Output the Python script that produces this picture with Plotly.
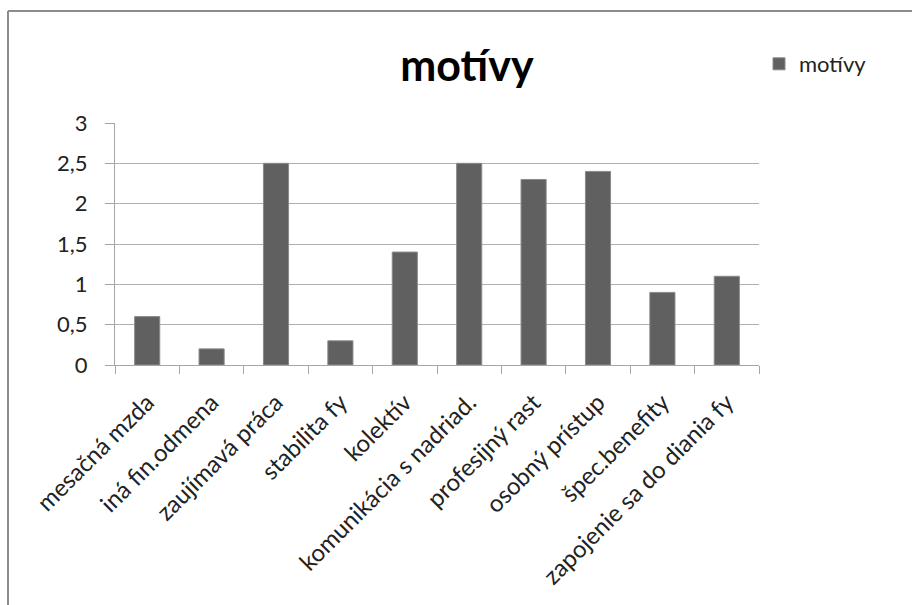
import plotly.graph_objects as go

categories = [
    "mesačná mzda",
    "iná fin.odmena",
    "zaujímavá práca",
    "stabilita fy",
    "kolektív",
    "komunikácia s nadriad.",
    "profesijný rast",
    "osobný prístup",
    "špec.benefity",
    "zapojenie sa do diania fy",
]
values = [0.6, 0.2, 2.5, 0.3, 1.4, 2.5, 2.3, 2.4, 0.9, 1.1]
y_ticks = [0, 0.5, 1, 1.5, 2, 2.5, 3]
series_name = "motívy"

FONT = "Lato"
W, H = 912, 605
L, R, T, B = 115, 759, 123, 365  # plot area in pixels


def px_x(x):
    return (x - L) / (R - L)


def px_y(y):
    return (B - y) / (B - T)


fig = go.Figure(
    go.Bar(
        x=categories,
        y=values,
        name=series_name,
        marker=dict(color="#606060", line=dict(color="#8a8a8a", width=1)),
        showlegend=True,
    )
)

fig.update_layout(
    width=W,
    height=H,
    margin=dict(l=L, r=W - R, t=T, b=H - B, autoexpand=False),
    paper_bgcolor="white",
    plot_bgcolor="white",
    separators=", ",
    bargap=0.61,
    font=dict(family=FONT, color="#222222"),
    title=dict(
        text="<b>motívy</b>",
        font=dict(family=FONT, size=43, color="#000000"),
        x=467 / W,
        xanchor="center",
        xref="container",
        y=1 - 66 / H,
        yanchor="middle",
        yref="container",
    ),
    legend=dict(
        x=px_x(759),
        y=px_y(64),
        xanchor="left",
        yanchor="middle",
        font=dict(family=FONT, size=22, color="#222222"),
        bgcolor="rgba(0,0,0,0)",
    ),
    xaxis=dict(
        type="category",
        automargin=False,
        tickangle=-45,
        tickson="boundaries",
        ticks="outside",
        ticklen=8,
        tickcolor="#a6a6a6",
        showline=True,
        linecolor="#a6a6a6",
        linewidth=1,
        showgrid=False,
        ticklabelstandoff=13,
        tickfont=dict(family=FONT, size=24, color="#222222"),
    ),
    yaxis=dict(
        range=[0, 3],
        automargin=False,
        tickvals=y_ticks,
        ticks="outside",
        ticklen=9,
        tickcolor="#a6a6a6",
        showline=True,
        linecolor="#a6a6a6",
        linewidth=1,
        showgrid=True,
        gridcolor="#b0b0b0",
        gridwidth=1,
        zeroline=False,
        ticklabelstandoff=13,
        tickfont=dict(family=FONT, size=22, color="#222222"),
    ),
    shapes=[
        dict(type="line", xref="paper", yref="paper",
             x0=px_x(8), y0=px_y(11), x1=px_x(8), y1=px_y(H + 5),
             line=dict(color="#8c8c8c", width=2)),
        dict(type="line", xref="paper", yref="paper",
             x0=px_x(8), y0=px_y(11), x1=px_x(W + 5), y1=px_y(11),
             line=dict(color="#8c8c8c", width=2)),
    ],
)

fig.write_html("out.html")
